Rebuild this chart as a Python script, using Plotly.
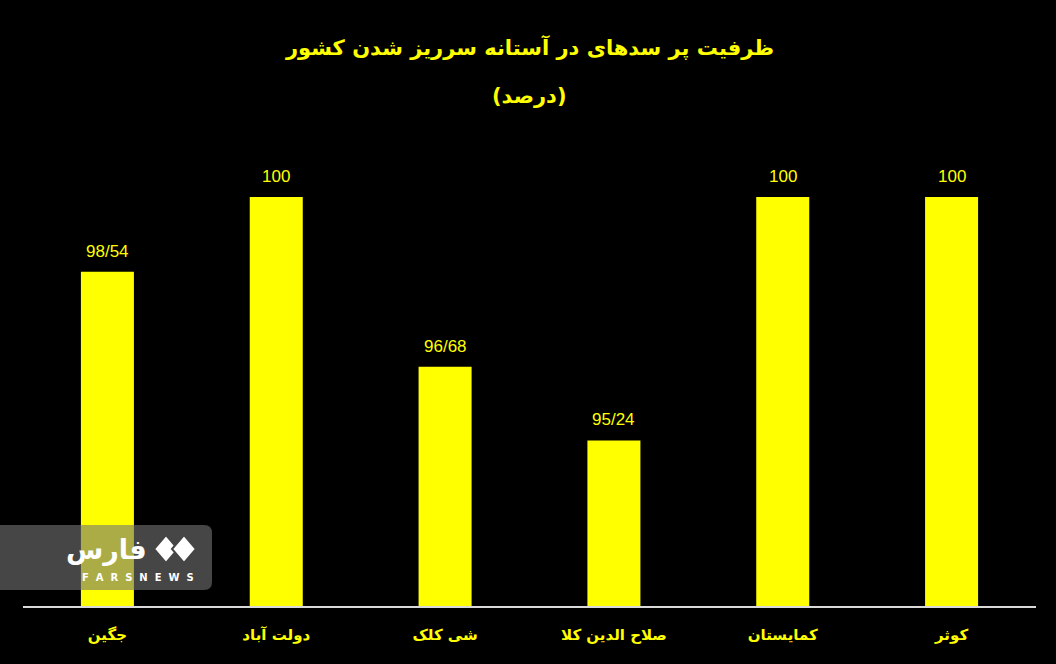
import plotly.graph_objects as go

categories = ["جگین", "دولت آباد", "شی کلک", "صلاح الدین کلا", "کمایستان", "کوثر"]
values = [98.54, 100, 96.68, 95.24, 100, 100]
value_labels = ["98/54", "100", "96/68", "95/24", "100", "100"]

title_line1 = "ظرفیت پر سدهای در آستانه سرریز شدن کشور"
title_line2 = "(درصد)"

YELLOW = "#ffff00"
FONT = "DejaVu Sans"
W, H = 1056, 664
ML, MR, MT, MB = 23, 20, 146, 58
plot_w = W - ML - MR
plot_h = H - MT - MB


def px_x(v):
    return (v - ML) / plot_w


def px_y(v):
    return (H - MB - v) / plot_h


fig = go.Figure()
fig.add_trace(go.Bar(
    x=categories, y=values, base=0,
    marker=dict(color=YELLOW, line=dict(width=0)),
    cliponaxis=False, hoverinfo="skip",
))

annotations = []
for c, v, t in zip(categories, values, value_labels):
    annotations.append(dict(x=c, y=v, xref="x", yref="y", text=t, showarrow=False,
                            yanchor="bottom", yshift=9,
                            font=dict(color=YELLOW, size=17, family="Liberation Sans")))

annotations += [
    dict(text=title_line1, x=0.5, y=px_y(47), xref="paper", yref="paper",
         xanchor="center", yanchor="middle", showarrow=False,
         font=dict(color=YELLOW, size=21, family=FONT, weight="bold")),
    dict(text=title_line2, x=0.5, y=px_y(96), xref="paper", yref="paper",
         xanchor="center", yanchor="middle", showarrow=False,
         font=dict(color=YELLOW, size=21, family=FONT, weight="bold")),
    dict(text="فارس", x=px_x(149), y=px_y(550), xref="paper", yref="paper",
         xanchor="right", yanchor="middle", showarrow=False,
         font=dict(color="white", size=27, family=FONT, weight="bold")),
    dict(text="F  A  R  S  N  E  W  S", x=px_x(138), y=px_y(577), xref="paper", yref="paper",
         xanchor="center", yanchor="middle", showarrow=False,
         font=dict(color="white", size=10, family=FONT, weight="bold")),
]

# watermark box with rounded right corners
r = 8
x0, x1, y0, y1 = 0, 212, 525, 590
path = (f"M {px_x(x0)},{px_y(y0)} L {px_x(x1 - r)},{px_y(y0)} "
        f"Q {px_x(x1)},{px_y(y0)} {px_x(x1)},{px_y(y0 + r)} "
        f"L {px_x(x1)},{px_y(y1 - r)} Q {px_x(x1)},{px_y(y1)} {px_x(x1 - r)},{px_y(y1)} "
        f"L {px_x(x0)},{px_y(y1)} Z")
shapes = [dict(type="path", xref="paper", yref="paper", path=path,
               fillcolor="rgb(117,117,117)", opacity=0.6, line=dict(width=0), layer="above")]
for cx in (166, 184):
    shapes.append(dict(type="path", xref="paper", yref="paper",
                       path=(f"M {px_x(cx - 12)},{px_y(549)} L {px_x(cx)},{px_y(535)} "
                             f"L {px_x(cx + 12)},{px_y(549)} L {px_x(cx)},{px_y(563)} Z"),
                       fillcolor="white", line=dict(color="rgb(70,70,70)", width=2), layer="above"))

fig.update_layout(
    width=W, height=H,
    paper_bgcolor="black", plot_bgcolor="black",
    margin=dict(l=ML, r=MR, t=MT, b=MB),
    bargap=0.686,
    showlegend=False,
    xaxis=dict(showline=True, linecolor="#d9d9d9", linewidth=2, showgrid=False,
               zeroline=False, ticks="", ticklabelstandoff=14,
               tickfont=dict(color=YELLOW, size=15, family=FONT, weight="bold")),
    yaxis=dict(range=[92, 101], visible=False, showgrid=False, zeroline=False),
    annotations=annotations,
    shapes=shapes,
)

fig.write_html("out.html", config={"displayModeBar": False},
               post_script="document.body.style.margin='0';document.body.style.overflow='hidden';document.body.style.background='black';")
